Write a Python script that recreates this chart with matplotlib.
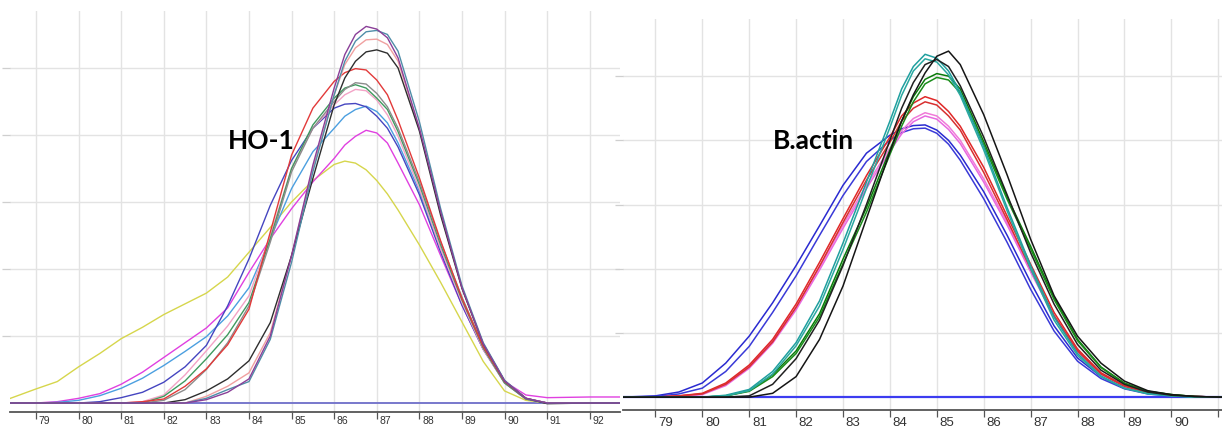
import matplotlib
matplotlib.use('Agg')
import matplotlib.pyplot as plt
import matplotlib.transforms as mtransforms

# ---- HO-1 melt curves (left panel) ----
ho1_temps = [78.4, 79.0, 79.5, 80.0, 80.5, 81.0, 81.5, 82.0, 82.5, 83.0, 83.5,
             84.0, 84.5, 85.0, 85.5, 86.0, 86.25, 86.5, 86.75, 87.0, 87.25,
             87.5, 88.0, 88.5, 89.0, 89.5, 90.0, 90.5, 91.0, 92.0, 92.7]
ho1_yellow = [0.07, 0.21, 0.32, 0.54, 0.74, 0.96, 1.13, 1.32, 1.48, 1.64, 1.88,
              2.25, 2.62, 3.0, 3.32, 3.56, 3.61, 3.58, 3.48, 3.32, 3.12,
              2.88, 2.36, 1.8, 1.21, 0.62, 0.18, 0.04, 0.0, 0.0, 0.0]
ho1_magenta = [0.0, 0.0, 0.02, 0.07, 0.14, 0.28, 0.46, 0.68, 0.9, 1.12, 1.42,
               1.95, 2.45, 2.9, 3.3, 3.65, 3.85, 3.98, 4.07, 4.03, 3.88,
               3.58, 2.96, 2.2, 1.46, 0.8, 0.32, 0.12, 0.08, 0.09, 0.09]
ho1_lightblue = [0.0, 0.0, 0.01, 0.04, 0.11, 0.22, 0.37, 0.56, 0.77, 0.99, 1.3,
                 1.72, 2.45, 3.2, 3.75, 4.1, 4.28, 4.38, 4.43, 4.35, 4.18,
                 3.88, 3.16, 2.3, 1.51, 0.82, 0.33, 0.06, 0.0, 0.0, 0.0]
ho1_darkblue = [0.0, 0.0, 0.0, 0.0, 0.02, 0.08, 0.16, 0.31, 0.54, 0.86, 1.45,
                2.15, 2.95, 3.62, 4.1, 4.4, 4.46, 4.47, 4.42, 4.28, 4.1,
                3.82, 3.11, 2.25, 1.46, 0.8, 0.3, 0.06, 0.0, 0.0, 0.0]
ho1_red = [0.0, 0.0, 0.0, 0.0, 0.0, 0.0, 0.02, 0.06, 0.25, 0.51, 0.87,
           1.4, 2.55, 3.7, 4.4, 4.8, 4.93, 4.99, 4.97, 4.82, 4.6,
           4.22, 3.36, 2.42, 1.56, 0.84, 0.32, 0.07, 0.0, 0.0, 0.0]
ho1_green = [0.0, 0.0, 0.0, 0.0, 0.0, 0.0, 0.0, 0.1, 0.33, 0.66, 1.02,
             1.5, 2.45, 3.5, 4.15, 4.55, 4.7, 4.75, 4.7, 4.55, 4.38,
             4.05, 3.26, 2.36, 1.54, 0.82, 0.3, 0.06, 0.0, 0.0, 0.0]
ho1_gray = [0.0, 0.0, 0.0, 0.0, 0.0, 0.0, 0.0, 0.04, 0.2, 0.5, 0.9,
            1.45, 2.4, 3.45, 4.1, 4.5, 4.68, 4.78, 4.76, 4.62, 4.42,
            4.1, 3.3, 2.4, 1.58, 0.85, 0.32, 0.07, 0.0, 0.0, 0.0]
ho1_pink = [0.0, 0.0, 0.0, 0.0, 0.0, 0.0, 0.02, 0.12, 0.42, 0.78, 1.15,
            1.6, 2.5, 3.5, 4.1, 4.45, 4.6, 4.68, 4.66, 4.52, 4.3,
            3.98, 3.2, 2.3, 1.5, 0.8, 0.3, 0.06, 0.0, 0.0, 0.0]
ho1_black = [0.0, 0.0, 0.0, 0.0, 0.0, 0.0, 0.0, 0.0, 0.05, 0.18, 0.36,
             0.63, 1.2, 2.2, 3.35, 4.45, 4.85, 5.1, 5.24, 5.27, 5.22,
             5.0, 4.06, 2.8, 1.71, 0.88, 0.33, 0.07, -0.01, 0.0, 0.0]
ho1_teal = [0.0, 0.0, 0.0, 0.0, 0.0, 0.0, 0.0, 0.0, 0.0, 0.07, 0.2,
            0.32, 0.95, 2.1, 3.45, 4.6, 5.1, 5.4, 5.54, 5.56, 5.5,
            5.25, 4.2, 2.9, 1.75, 0.9, 0.34, 0.07, 0.0, 0.0, 0.0]
ho1_salmon = [0.0, 0.0, 0.0, 0.0, 0.0, 0.0, 0.0, 0.0, 0.0, 0.1, 0.25,
              0.45, 1.05, 2.2, 3.5, 4.6, 5.05, 5.3, 5.42, 5.43, 5.35,
              5.1, 4.1, 2.85, 1.72, 0.88, 0.33, 0.07, 0.0, 0.0, 0.0]
ho1_purple = [0.0, 0.0, 0.0, 0.0, 0.0, 0.0, 0.0, 0.0, 0.0, 0.05, 0.16,
              0.36, 1.0, 2.2, 3.55, 4.7, 5.2, 5.5, 5.62, 5.58, 5.45,
              5.15, 4.1, 2.85, 1.72, 0.88, 0.33, 0.07, 0.0, 0.0, 0.0]

# ---- B.actin melt curves (right panel) ----
act_temps = [78.3, 79.0, 79.5, 80.0, 80.5, 81.0, 81.5, 82.0, 82.5, 83.0, 83.5,
             84.0, 84.25, 84.5, 84.75, 85.0, 85.25, 85.5, 86.0, 86.5, 87.0,
             87.5, 88.0, 88.5, 89.0, 89.5, 90.0, 90.5, 91.1]
act_blue1 = [0.0, 0.02, 0.08, 0.22, 0.53, 0.95, 1.47, 2.05, 2.67, 3.3, 3.8,
             4.08, 4.18, 4.23, 4.24, 4.16, 4.0, 3.77, 3.2, 2.52, 1.79,
             1.11, 0.61, 0.32, 0.14, 0.06, 0.03, 0.01, 0.0]
act_blue2 = [0.0, 0.01, 0.05, 0.14, 0.4, 0.79, 1.32, 1.89, 2.52, 3.14, 3.67,
             4.0, 4.12, 4.18, 4.19, 4.11, 3.94, 3.69, 3.09, 2.41, 1.68,
             1.03, 0.56, 0.29, 0.13, 0.05, 0.02, 0.0, 0.0]
act_red1 = [0.0, 0.0, 0.02, 0.06, 0.22, 0.5, 0.9, 1.45, 2.1, 2.78, 3.45,
            4.05, 4.38, 4.58, 4.68, 4.62, 4.45, 4.22, 3.58, 2.82, 2.07,
            1.32, 0.75, 0.38, 0.18, 0.08, 0.03, 0.01, 0.0]
act_red2 = [0.0, 0.0, 0.02, 0.05, 0.2, 0.47, 0.86, 1.4, 2.04, 2.72, 3.38,
            3.97, 4.3, 4.5, 4.6, 4.55, 4.38, 4.16, 3.5, 2.76, 2.0,
            1.27, 0.72, 0.36, 0.17, 0.07, 0.03, 0.01, 0.0]
act_pink1 = [0.0, 0.0, 0.02, 0.05, 0.2, 0.48, 0.88, 1.4, 2.02, 2.68, 3.3,
             3.88, 4.15, 4.34, 4.43, 4.38, 4.22, 4.0, 3.4, 2.72, 1.98,
             1.27, 0.73, 0.37, 0.17, 0.07, 0.03, 0.01, 0.0]
act_pink2 = [0.0, 0.0, 0.01, 0.04, 0.18, 0.45, 0.84, 1.36, 1.98, 2.63, 3.25,
             3.83, 4.1, 4.29, 4.38, 4.33, 4.17, 3.95, 3.35, 2.68, 1.95,
             1.25, 0.71, 0.36, 0.16, 0.07, 0.03, 0.01, 0.0]
act_green1 = [0.0, 0.0, 0.0, 0.0, 0.02, 0.1, 0.35, 0.72, 1.3, 2.15, 2.95,
              3.85, 4.3, 4.68, 4.95, 5.04, 5.0, 4.8, 3.98, 3.12, 2.35,
              1.55, 0.9, 0.47, 0.22, 0.09, 0.04, 0.01, 0.0]
act_green2 = [0.0, 0.0, 0.0, 0.0, 0.02, 0.09, 0.32, 0.68, 1.25, 2.08, 2.88,
              3.78, 4.22, 4.6, 4.88, 4.98, 4.94, 4.74, 3.93, 3.08, 2.31,
              1.52, 0.88, 0.46, 0.21, 0.09, 0.04, 0.01, 0.0]
act_teal1 = [0.0, 0.0, 0.0, 0.0, 0.03, 0.12, 0.4, 0.85, 1.5, 2.4, 3.35,
             4.3, 4.8, 5.15, 5.34, 5.28, 5.08, 4.75, 3.9, 2.95, 2.05,
             1.25, 0.68, 0.33, 0.14, 0.06, 0.02, 0.0, 0.0]
act_teal2 = [0.0, 0.0, 0.0, 0.0, 0.02, 0.1, 0.36, 0.8, 1.42, 2.3, 3.25,
             4.2, 4.7, 5.08, 5.27, 5.22, 5.02, 4.7, 3.85, 2.9, 2.0,
             1.2, 0.65, 0.32, 0.14, 0.05, 0.02, 0.0, 0.0]
act_black1 = [0.0, 0.0, 0.0, 0.0, 0.0, 0.0, 0.06, 0.32, 0.9, 1.73, 2.78,
              3.82, 4.3, 4.71, 5.05, 5.31, 5.39, 5.18, 4.4, 3.46, 2.46,
              1.58, 0.95, 0.53, 0.25, 0.1, 0.04, 0.01, 0.0]
act_black2 = [0.0, 0.0, 0.0, 0.0, 0.0, 0.02, 0.2, 0.6, 1.2, 2.05, 3.0,
              4.0, 4.5, 4.9, 5.18, 5.26, 5.15, 4.85, 4.05, 3.15, 2.25,
              1.45, 0.82, 0.42, 0.2, 0.08, 0.03, 0.01, 0.0]

ho1_ticks = list(range(79, 93))
act_ticks = list(range(79, 92))
grid_levels = [1, 2, 3, 4, 5]


def style_axis(ax, ticks, xlim, ylim, label_size, label_family, pad):
    ax.set_xlim(*xlim)
    ax.set_ylim(*ylim)
    for side in ('top', 'right', 'left'):
        ax.spines[side].set_visible(False)
    ax.spines['bottom'].set_color('#555555')
    ax.spines['bottom'].set_linewidth(1.3)
    ax.set_xticks(ticks)
    ax.set_xticklabels([str(t) for t in ticks])
    ax.set_yticks(grid_levels)
    ax.set_yticklabels([])
    ax.tick_params(axis='x', direction='out', length=5, width=0.9,
                   color='#555555', pad=pad, labelsize=label_size,
                   labelcolor='#333333')
    ax.tick_params(axis='y', direction='out', length=6, width=0.9,
                   color='#cfcfcf')
    shift = mtransforms.ScaledTranslation(2 / 72, 0, ax.figure.dpi_scale_trans)
    for lab in ax.get_xticklabels():
        lab.set_horizontalalignment('left')
        lab.set_family(label_family)
        lab.set_transform(lab.get_transform() + shift)
    ax.grid(True, color='#e3e3e3', linewidth=1.0)
    ax.set_axisbelow(True)


fig = plt.figure(figsize=(12.22, 4.27), dpi=100)
W, H = 1222, 427

# left panel: HO-1
ax1 = fig.add_axes([10 / W, (H - 413) / H, 610 / W, 401 / H])
style_axis(ax1, ho1_ticks, (78.39, 92.71), (-0.134, 5.85), 7.5,
           ['Liberation Sans', 'DejaVu Sans'], -2.5)
ax1.axhline(0, color='#7878cc', linewidth=1.4, zorder=1)
ho1_curves = [
    (ho1_yellow, '#d6d64c'),
    (ho1_magenta, '#e040e0'),
    (ho1_lightblue, '#4b9fe0'),
    (ho1_darkblue, '#4545c0'),
    (ho1_pink, '#f3a3c6'),
    (ho1_green, '#3f9a5f'),
    (ho1_gray, '#8c8c8c'),
    (ho1_red, '#e23a3a'),
    (ho1_salmon, '#f0a0a0'),
    (ho1_black, '#2e2e2e'),
    (ho1_teal, '#4f8da8'),
    (ho1_purple, '#8a3f98'),
]
for vals, col in ho1_curves:
    ax1.plot(ho1_temps, vals, color=col, linewidth=1.0, zorder=2)
ax1.text(84.28, 3.81, 'HO-1', ha='center', va='baseline', fontsize=19,
         fontweight='bold', family=['Lato', 'DejaVu Sans'], color='black')

# right panel: B.actin
ax2 = fig.add_axes([623 / W, (H - 411) / H, 599 / W, 391 / H])
style_axis(ax2, act_ticks, (78.31, 91.08), (-0.2, 5.89), 9.5,
           ['Liberation Sans Narrow', 'Liberation Sans', 'DejaVu Sans'], -0.9)
ax2.axhline(0, color='#3c3cf0', linewidth=1.6, zorder=1)
act_curves = [
    (act_blue1, '#2a2ad0'),
    (act_blue2, '#3a3ad8'),
    (act_pink1, '#f07ad8'),
    (act_pink2, '#e868e0'),
    (act_red1, '#e02828'),
    (act_red2, '#d83030'),
    (act_green1, '#0a7a0a'),
    (act_green2, '#1a8c1a'),
    (act_teal1, '#1f9f9f'),
    (act_teal2, '#2aa8a0'),
    (act_black2, '#202020'),
    (act_black1, '#151515'),
]
for vals, col in act_curves:
    ax2.plot(act_temps, vals, color=col, linewidth=1.1, zorder=2)
ax2.text(82.38, 3.88, 'B.actin', ha='center', va='baseline', fontsize=19,
         fontweight='bold', family=['Lato', 'DejaVu Sans'], color='black')

fig.savefig('out.png', dpi=100, facecolor='white')
